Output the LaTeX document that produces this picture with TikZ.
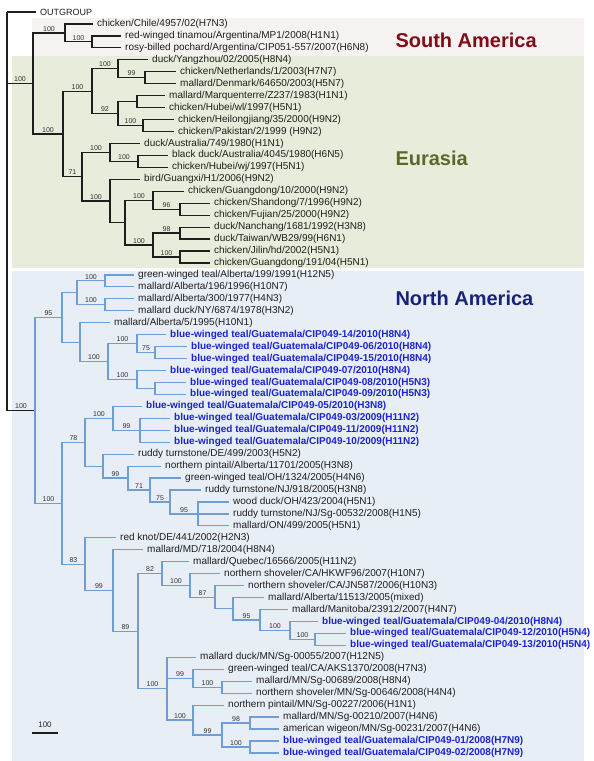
\documentclass[tikz,border=0pt]{standalone}
\usepackage{fontspec}
\setmainfont{Liberation Sans}
\definecolor{saBg}{RGB}{247,242,242}
\definecolor{euBg}{RGB}{232,236,218}
\definecolor{naBg}{RGB}{232,238,245}
\definecolor{saTitle}{RGB}{130,12,22}
\definecolor{euTitle}{RGB}{88,106,42}
\definecolor{naTitle}{RGB}{24,34,120}
\definecolor{naLine}{RGB}{110,158,212}
\definecolor{bwtText}{RGB}{28,36,205}
\definecolor{treeLine}{RGB}{30,30,30}
% y position of the k-th tip row
\newcommand\rowy[1]{12+11.95*(#1)}
% internal node: name, x, row index
\newcommand\inode[3]{\coordinate (#1) at (#2,{\rowy{#3}});}
% tip label: name, text x, row index, style, text
\newcommand\tip[5]{\node[leaf,#4] (#1) at (#2-4,{\rowy{#3}}) {#5};}
% branch from parent to child, with optional support value
\newcommand\br[3][]{\draw[branch] (#2) |- node[support]{#1} (#3);}
\newcommand\brl[2]{\draw[branch] (#1) |- (#2.west);}
\begin{document}
\begin{tikzpicture}[x=1pt,y=-1pt,
  leaf/.style={anchor=west,inner xsep=4pt,inner ysep=0pt,text=black!88,font=\fontsize{10}{11}\selectfont},
  bwt/.style={text=bwtText,font=\fontsize{10}{11}\selectfont\bfseries},
  branch/.style={line width=1.2pt,draw=treeLine},
  support/.style={pos=.75,above,inner sep=1.2pt,text=black!80,font=\fontsize{7}{8}\selectfont},
  title/.style={anchor=west,font=\fontsize{20}{24}\selectfont\bfseries}]
\useasboundingbox (0,0) rectangle (594,761);
\fill[white] (0,0) rectangle (594,761);
% region backgrounds
\fill[saBg] (32,18) rectangle (584,56);
\fill[euBg] (12,56) rectangle (584,268);
\fill[naBg] (12,271) rectangle (584,761);
\node[title,text=saTitle] (tSA) at (392,40) {South America};
\node[title,text=euTitle] (tEU) at (392,158) {Eurasia};
\node[title,text=naTitle] (tNA) at (392,298) {North America};

% ---------- tips ----------
\tip{l0}{40}{0}{font=\fontsize{9}{10}\selectfont}{OUTGROUP}
\tip{l1}{97}{1}{}{chicken/Chile/4957/02(H7N3)}
\tip{l2}{125}{2}{}{red-winged tinamou/Argentina/MP1/2008(H1N1)}
\tip{l3}{125}{3}{}{rosy-billed pochard/Argentina/CIP051-557/2007(H6N8)}
\tip{l4}{152}{4}{}{duck/Yangzhou/02/2005(H8N4)}
\tip{l5}{180}{5}{}{chicken/Netherlands/1/2003(H7N7)}
\tip{l6}{180}{6}{}{mallard/Denmark/64650/2003(H5N7)}
\tip{l7}{169}{7}{}{mallard/Marquenterre/Z237/1983(H1N1)}
\tip{l8}{169}{8}{}{chicken/Hubei/wl/1997(H5N1)}
\tip{l9}{178}{9}{}{chicken/Heilongjiang/35/2000(H9N2)}
\tip{l10}{178}{10}{}{chicken/Pakistan/2/1999 (H9N2)}
\tip{l11}{144}{11}{}{duck/Australia/749/1980(H1N1)}
\tip{l12}{172}{12}{}{black duck/Australia/4045/1980(H6N5)}
\tip{l13}{172}{13}{}{chicken/Hubei/wj/1997(H5N1)}
\tip{l14}{144}{14}{}{bird/Guangxi/H1/2006(H9N2)}
\tip{l15}{188}{15}{}{chicken/Guangdong/10/2000(H9N2)}
\tip{l16}{214}{16}{}{chicken/Shandong/7/1996(H9N2)}
\tip{l17}{214}{17}{}{chicken/Fujian/25/2000(H9N2)}
\tip{l18}{214}{18}{}{duck/Nanchang/1681/1992(H3N8)}
\tip{l19}{214}{19}{}{duck/Taiwan/WB29/99(H6N1)}
\tip{l20}{214}{20}{}{chicken/Jilin/hd/2002(H5N1)}
\tip{l21}{214}{21}{}{chicken/Guangdong/191/04(H5N1)}
\tip{l22}{138}{22}{}{green-winged teal/Alberta/199/1991(H12N5)}
\tip{l23}{138}{23}{}{mallard/Alberta/196/1996(H10N7)}
\tip{l24}{138}{24}{}{mallard/Alberta/300/1977(H4N3)}
\tip{l25}{138}{25}{}{mallard duck/NY/6874/1978(H3N2)}
\tip{l26}{114}{26}{}{mallard/Alberta/5/1995(H10N1)}
\tip{l27}{170}{27}{bwt}{blue-winged teal/Guatemala/CIP049-14/2010(H8N4)}
\tip{l28}{191}{28}{bwt}{blue-winged teal/Guatemala/CIP049-06/2010(H8N4)}
\tip{l29}{191}{29}{bwt}{blue-winged teal/Guatemala/CIP049-15/2010(H8N4)}
\tip{l30}{170}{30}{bwt}{blue-winged teal/Guatemala/CIP049-07/2010(H8N4)}
\tip{l31}{190}{31}{bwt}{blue-winged teal/Guatemala/CIP049-08/2010(H5N3)}
\tip{l32}{190}{32}{bwt}{blue-winged teal/Guatemala/CIP049-09/2010(H5N3)}
\tip{l33}{146}{33}{bwt}{blue-winged teal/Guatemala/CIP049-05/2010(H3N8)}
\tip{l34}{174}{34}{bwt}{blue-winged teal/Guatemala/CIP049-03/2009(H11N2)}
\tip{l35}{174}{35}{bwt}{blue-winged teal/Guatemala/CIP049-11/2009(H11N2)}
\tip{l36}{174}{36}{bwt}{blue-winged teal/Guatemala/CIP049-10/2009(H11N2)}
\tip{l37}{138}{37}{}{ruddy turnstone/DE/499/2003(H5N2)}
\tip{l38}{165}{38}{}{northern pintail/Alberta/11701/2005(H3N8)}
\tip{l39}{185}{39}{}{green-winged teal/OH/1324/2005(H4N6)}
\tip{l40}{205}{40}{}{ruddy turnstone/NJ/918/2005(H3N8)}
\tip{l41}{233}{41}{}{wood duck/OH/423/2004(H5N1)}
\tip{l42}{233}{42}{}{ruddy turnstone/NJ/Sg-00532/2008(H1N5)}
\tip{l43}{233}{43}{}{mallard/ON/499/2005(H5N1)}
\tip{l44}{120}{44}{}{red knot/DE/441/2002(H2N3)}
\tip{l45}{147}{45}{}{mallard/MD/718/2004(H8N4)}
\tip{l46}{193}{46}{}{mallard/Quebec/16566/2005(H11N2)}
\tip{l47}{224}{47}{}{northern shoveler/CA/HKWF96/2007(H10N7)}
\tip{l48}{248}{48}{}{northern shoveler/CA/JN587/2006(H10N3)}
\tip{l49}{268}{49}{}{mallard/Alberta/11513/2005(mixed)}
\tip{l50}{292}{50}{}{mallard/Manitoba/23912/2007(H4N7)}
\tip{l51}{322}{51}{bwt}{blue-winged teal/Guatemala/CIP049-04/2010(H8N4)}
\tip{l52}{350}{52}{bwt}{blue-winged teal/Guatemala/CIP049-12/2010(H5N4)}
\tip{l53}{350}{53}{bwt}{blue-winged teal/Guatemala/CIP049-13/2010(H5N4)}
\tip{l54}{200}{54}{}{mallard duck/MN/Sg-00055/2007(H12N5)}
\tip{l55}{228}{55}{}{green-winged teal/CA/AKS1370/2008(H7N3)}
\tip{l56}{256}{56}{}{mallard/MN/Sg-00689/2008(H8N4)}
\tip{l57}{256}{57}{}{northern shoveler/MN/Sg-00646/2008(H4N4)}
\tip{l58}{228}{58}{}{northern pintail/MN/Sg-00227/2006(H1N1)}
\tip{l59}{283}{59}{}{mallard/MN/Sg-00210/2007(H4N6)}
\tip{l60}{283}{60}{}{american wigeon/MN/Sg-00231/2007(H4N6)}
\tip{l61}{283}{61}{bwt}{blue-winged teal/Guatemala/CIP049-01/2008(H7N9)}
\tip{l62}{283}{62}{bwt}{blue-winged teal/Guatemala/CIP049-02/2008(H7N9)}

% ---------- internal nodes ----------
\inode{root}{7}{0}
\inode{A}{33}{5.9765625}
\inode{SA}{65}{1.75}
\inode{SA2}{92}{2.5}
\inode{EU}{63}{10.203125}
\inode{EU1}{92}{6.625}
\inode{EU1a}{118}{4.75}
\inode{n99}{145}{5.5}
\inode{EU1b}{118}{8.5}
\inode{MH}{137}{7.5}
\inode{HP}{143}{9.5}
\inode{EU2}{82}{13.78125}
\inode{Aus}{110}{11.75}
\inode{BH}{138}{12.5}
\inode{G}{110}{15.8125}
\inode{G2}{125}{17.625}
\inode{G3}{153}{15.75}
\inode{n96}{180}{16.5}
\inode{G4}{153}{19.5}
\inode{n98}{180}{18.5}
\inode{nJ}{180}{20.5}
\inode{NA}{35}{33.3317}
\inode{NA1}{62}{25.5625}
\inode{NA1a}{77}{23.5}
\inode{a1}{105}{22.5}
\inode{a2}{105}{24.5}
\inode{NA1b}{80}{27.625}
\inode{B}{108}{29.25}
\inode{B1}{137}{27.75}
\inode{n75}{155}{28.5}
\inode{B2}{137}{30.75}
\inode{nB2c}{155}{31.5}
\inode{NA2}{62}{41.101}
\inode{NA2a}{85}{36}
\inode{C1}{113}{34}
\inode{c99}{140}{35}
\inode{C2}{103}{38}
\inode{D}{128}{39}
\inode{D2}{150}{40}
\inode{d75}{170}{41}
\inode{d95}{198}{42}
\inode{NA2b}{85}{46.202}
\inode{E}{113}{48.4043}
\inode{F}{138}{51.8086}
\inode{F1}{162}{46.9922}
\inode{f100}{190}{47.9844}
\inode{f87}{215}{48.9688}
\inode{fA}{233}{49.9375}
\inode{fM}{260}{50.875}
\inode{fa}{290}{51.75}
\inode{fb}{315}{52.5}
\inode{F2}{167}{56.625}
\inode{Gn}{193}{55.75}
\inode{g100}{222}{56.5}
\inode{H}{193}{59.25}
\inode{h99}{222}{60.5}
\inode{h98}{250}{59.5}
\inode{h100}{250}{61.5}

% ---------- root, South America, Eurasia ----------
\brl{root}{l0}
\br[100]{root}{A}
\br[100]{A}{SA}
\br[100]{A}{EU}
\brl{SA}{l1}
\br[100]{SA}{SA2}
\brl{SA2}{l2} \brl{SA2}{l3}
\br[100]{EU}{EU1}
\br[71]{EU}{EU2}
\br[100]{EU1}{EU1a}
\br[92]{EU1}{EU1b}
\brl{EU1a}{l4}
\br[99]{EU1a}{n99}
\brl{n99}{l5} \brl{n99}{l6}
\br{EU1b}{MH}
\br[100]{EU1b}{HP}
\brl{MH}{l7} \brl{MH}{l8}
\brl{HP}{l9} \brl{HP}{l10}
\br[100]{EU2}{Aus}
\br[100]{EU2}{G}
\brl{Aus}{l11}
\br[100]{Aus}{BH}
\brl{BH}{l12} \brl{BH}{l13}
\brl{G}{l14}
\br{G}{G2}
\br[100]{G2}{G3}
\br[100]{G2}{G4}
\brl{G3}{l15}
\br[96]{G3}{n96}
\brl{n96}{l16} \brl{n96}{l17}
\br[98]{G4}{n98}
\br[100]{G4}{nJ}
\brl{n98}{l18} \brl{n98}{l19}
\brl{nJ}{l20} \brl{nJ}{l21}
\br[100]{root}{NA}

% ---------- North America ----------
\begin{scope}[branch/.append style={draw=naLine}]
\br[95]{NA}{NA1}
\br[100]{NA}{NA2}
\br{NA1}{NA1a}
\br{NA1}{NA1b}
\br[100]{NA1a}{a1}
\br[100]{NA1a}{a2}
\brl{a1}{l22} \brl{a1}{l23}
\brl{a2}{l24} \brl{a2}{l25}
\brl{NA1b}{l26}
\br[100]{NA1b}{B}
\br[100]{B}{B1}
\br[100]{B}{B2}
\brl{B1}{l27}
\br[75]{B1}{n75}
\brl{n75}{l28} \brl{n75}{l29}
\brl{B2}{l30}
\br{B2}{nB2c}
\brl{nB2c}{l31} \brl{nB2c}{l32}
\br[78]{NA2}{NA2a}
\br[83]{NA2}{NA2b}
\br[100]{NA2a}{C1}
\br{NA2a}{C2}
\brl{C1}{l33}
\br[99]{C1}{c99}
\brl{c99}{l34} \brl{c99}{l35} \brl{c99}{l36}
\brl{C2}{l37}
\br[99]{C2}{D}
\brl{D}{l38}
\br[71]{D}{D2}
\brl{D2}{l39}
\br[75]{D2}{d75}
\brl{d75}{l40}
\br[95]{d75}{d95}
\brl{d95}{l41} \brl{d95}{l42} \brl{d95}{l43}
\brl{NA2b}{l44}
\br[99]{NA2b}{E}
\brl{E}{l45}
\br[89]{E}{F}
\br[82]{F}{F1}
\br[100]{F}{F2}
\brl{F1}{l46}
\br[100]{F1}{f100}
\brl{f100}{l47}
\br[87]{f100}{f87}
\brl{f87}{l48}
\br{f87}{fA}
\brl{fA}{l49}
\br[95]{fA}{fM}
\brl{fM}{l50}
\br[100]{fM}{fa}
\brl{fa}{l51}
\br[100]{fa}{fb}
\brl{fb}{l52} \brl{fb}{l53}
\brl{F2}{l54}
\br[99]{F2}{Gn}
\br[100]{F2}{H}
\brl{Gn}{l55}
\br[100]{Gn}{g100}
\brl{g100}{l56} \brl{g100}{l57}
\brl{H}{l58}
\br[99]{H}{h99}
\br[98]{h99}{h98}
\br[100]{h99}{h100}
\brl{h98}{l59} \brl{h98}{l60}
\brl{h100}{l61} \brl{h100}{l62}
\end{scope}

% ---------- scale bar ----------
\coordinate (sb0) at (32,733);
\coordinate (sb1) at (58,733);
\draw[line width=1.2pt,treeLine] (sb0) -- node[above=1pt,font=\fontsize{8}{9}\selectfont,text=black!85] (sbl) {100} (sb1);
\end{tikzpicture}
\end{document}
